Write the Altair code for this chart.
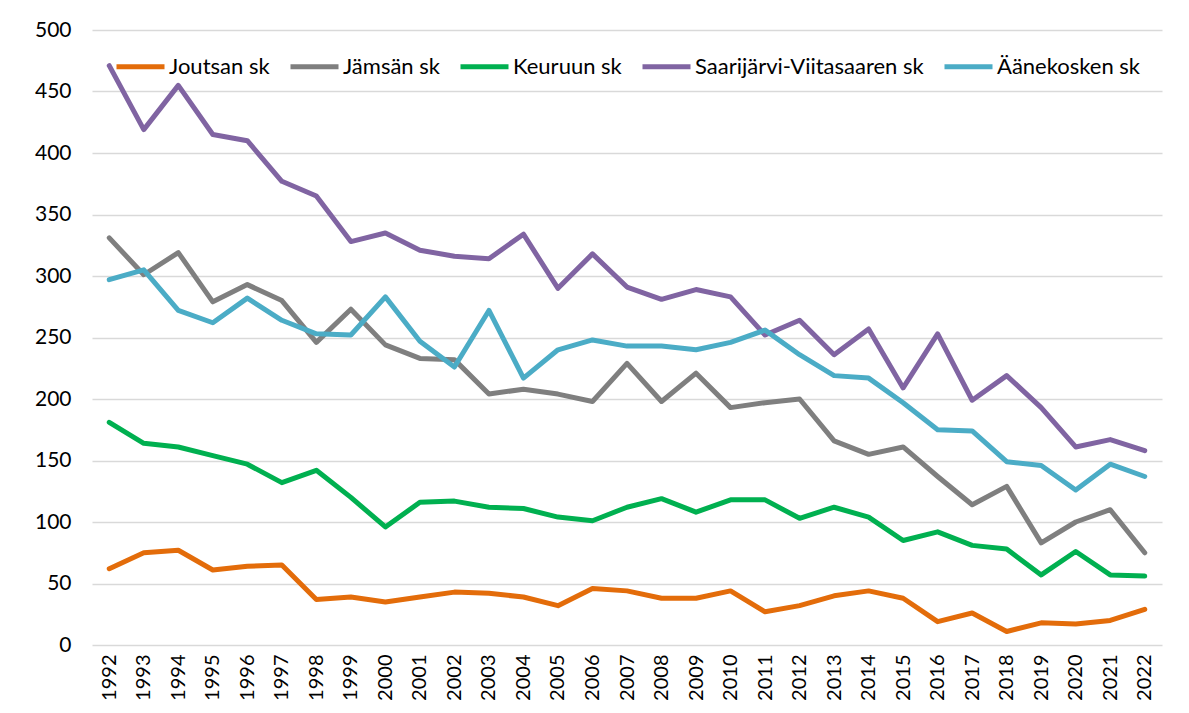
import altair as alt
import pandas as pd

years = [str(y) for y in range(1992, 2023)]

series_names = ["Joutsan sk", "Jämsän sk", "Keuruun sk", "Saarijärvi-Viitasaaren sk", "Äänekosken sk"]
series_colors = ["#E36C0A", "#7F7F7F", "#00B050", "#8064A2", "#4BACC6"]

joutsan = [62, 75, 77, 61, 64, 65, 37, 39, 35, 39, 43, 42, 39, 32, 46, 44, 38, 38, 44, 27,
           32, 40, 44, 38, 19, 26, 11, 18, 17, 20, 29]
jamsan = [331, 301, 319, 279, 293, 280, 246, 273, 244, 233, 232, 204, 208, 204, 198, 229, 198, 221, 193, 197,
          200, 166, 155, 161, 137, 114, 129, 83, 100, 110, 75]
keuruun = [181, 164, 161, 154, 147, 132, 142, 120, 96, 116, 117, 112, 111, 104, 101, 112, 119, 108, 118, 118,
           103, 112, 104, 85, 92, 81, 78, 57, 76, 57, 56]
saarijarvi = [471, 419, 455, 415, 410, 377, 365, 328, 335, 321, 316, 314, 334, 290, 318, 291, 281, 289, 283, 252,
              264, 236, 257, 209, 253, 199, 219, 193, 161, 167, 158]
aanekoski = [297, 305, 272, 262, 282, 264, 253, 252, 283, 247, 226, 272, 217, 240, 248, 243, 243, 240, 246, 256,
             236, 219, 217, 197, 175, 174, 149, 146, 126, 147, 137]

y_ticks = list(range(0, 501, 50))

all_values = [joutsan, jamsan, keuruun, saarijarvi, aanekoski]
rows = []
for i, (name, vals) in enumerate(zip(series_names, all_values)):
    for yr, v in zip(years, vals):
        rows.append({"Vuosi": yr, "Sarja": name, "Arvo": v, "order": i})
df = pd.DataFrame(rows)

FONT = "Lato"

chart = alt.Chart(df).mark_line(strokeWidth=5, strokeCap="round", strokeJoin="round").encode(
    x=alt.X("Vuosi:O", sort=years, title=None,
            axis=alt.Axis(labelAngle=270, labelAlign="right", labelBaseline="middle",
                          labelPadding=9, ticks=False, domain=False, grid=False,
                          labelFontSize=20, labelColor="#000000", labelFont=FONT)),
    y=alt.Y("Arvo:Q", title=None, scale=alt.Scale(domain=[0, 500], nice=False),
            axis=alt.Axis(values=y_ticks, ticks=False, domain=False, grid=True,
                          gridColor="#D9D9D9", gridWidth=1.3, labelPadding=21,
                          labelFontSize=21, labelColor="#000000", labelFont=FONT)),
    color=alt.Color("Sarja:N", sort=series_names,
                    scale=alt.Scale(domain=series_names, range=series_colors),
                    legend=alt.Legend(title=None, orient="none", direction="horizontal",
                                      legendX=22, legendY=10, columns=5,
                                      symbolType="stroke", symbolSize=2304, symbolStrokeWidth=5,
                                      labelFontSize=22, labelFont=FONT, labelColor="#000000",
                                      labelOffset=2, columnPadding=10, labelLimit=400)),
    order=alt.Order("order:Q"),
    detail="Sarja:N",
).properties(
    width=1070, height=615,
    autosize=alt.AutoSizeParams(type="none"),
    padding={"left": 84, "top": 22, "right": 19, "bottom": 60},
    background="#FFFFFF",
).configure_view(stroke=None)

chart.save("out.html", embed_options={"renderer": "svg", "actions": False})
